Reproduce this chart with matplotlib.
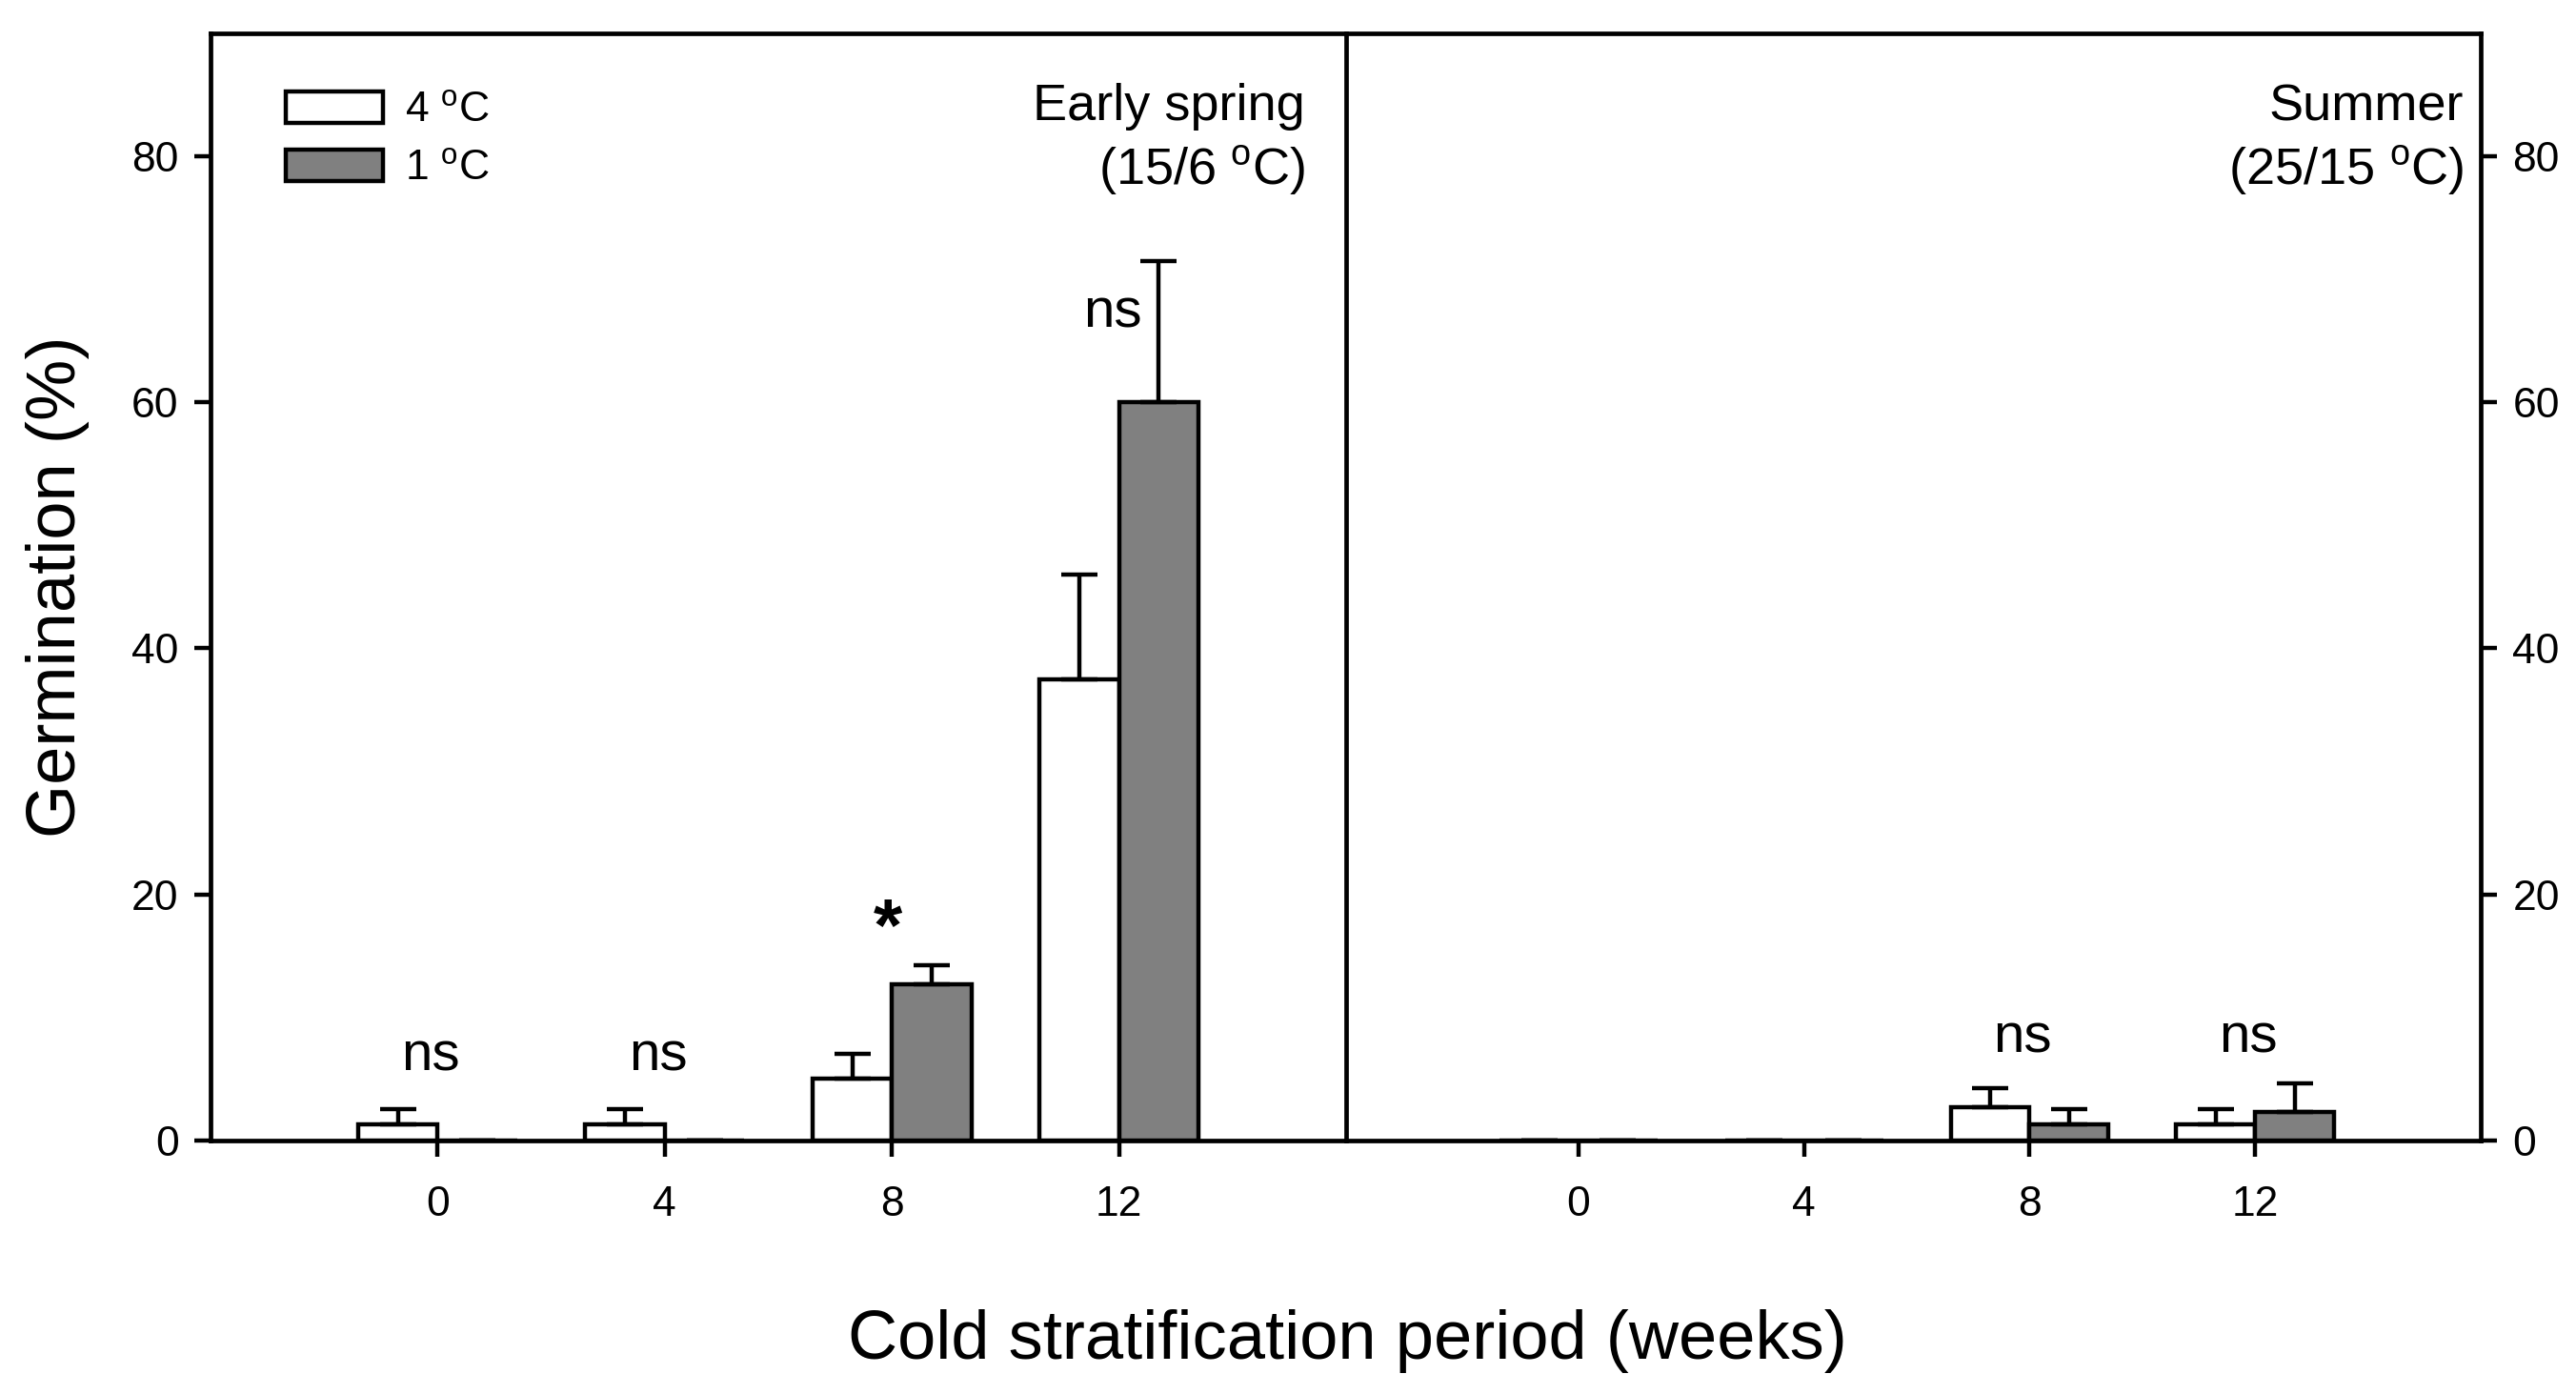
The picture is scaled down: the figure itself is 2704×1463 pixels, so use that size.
import matplotlib.pyplot as plt
import numpy as np
from matplotlib.patches import Patch

plt.rcParams['font.family'] = ['Liberation Sans', 'DejaVu Sans']
plt.rcParams['mathtext.fontset'] = 'custom'
plt.rcParams['mathtext.rm'] = 'Liberation Sans'

weeks = ['0', '4', '8', '12']
panels = ['Early spring\n(15/6 $^{\\mathrm{o}}$C)', 'Summer\n(25/15 $^{\\mathrm{o}}$C)']

# germination means and upper error (%)
spring_4c = [1.3, 1.3, 5.0, 37.5]
spring_4c_err = [1.25, 1.25, 2.0, 8.5]
spring_1c = [0, 0, 12.7, 60.0]
spring_1c_err = [0, 0, 1.5, 11.5]
summer_4c = [0, 0, 2.7, 1.3]
summer_4c_err = [0, 0, 1.55, 1.25]
summer_1c = [0, 0, 1.3, 2.3]
summer_1c_err = [0, 0, 1.25, 2.3]

spring_sig = ['ns', 'ns', '*', 'ns']
spring_sig_y = [6.8, 6.8, 17.0, 67.3]
summer_sig = ['', '', 'ns', 'ns']
summer_sig_y = [0, 0, 8.3, 8.3]

fig = plt.figure(figsize=(13.52, 7.315), dpi=200)
ax1 = fig.add_axes([0.0817, 0.182, 0.4409, 0.794])
ax2 = fig.add_axes([0.5226, 0.182, 0.4404, 0.794])

x = np.arange(len(weeks))
w = 0.35
data = [(ax1, spring_4c, spring_4c_err, spring_1c, spring_1c_err, spring_sig, spring_sig_y),
        (ax2, summer_4c, summer_4c_err, summer_1c, summer_1c_err, summer_sig, summer_sig_y)]

for i, (ax, v4, e4, v1, e1, sig, sigy) in enumerate(data):
    ax.bar(x - w / 2, v4, w, color='white', edgecolor='black', linewidth=1.6,
           yerr=[np.zeros(4), e4], capsize=6.7, error_kw=dict(elinewidth=1.6, capthick=1.6), zorder=2)
    ax.bar(x + w / 2, v1, w, color='#808080', edgecolor='black', linewidth=1.6,
           yerr=[np.zeros(4), e1], capsize=6.7, error_kw=dict(elinewidth=1.6, capthick=1.6), zorder=2)
    for xi, s, sy in zip(x, sig, sigy):
        if s == 'ns':
            ax.text(xi - 0.03, sy, s, ha='center', va='center', fontsize=21)
        elif s:
            ax.text(xi - 0.02, sy, s, ha='center', va='center', fontsize=28, fontweight='bold')
    ax.set_ylim(0, 90)
    ax.set_xticks(x)
    ax.set_xticklabels(weeks)
    ax.set_yticks([0, 20, 40, 60, 80])
    ax.tick_params(direction='out', length=6, width=1.6, labelsize=16)
    ax.tick_params(axis='x', pad=11)
    ax.tick_params(axis='y', pad=6)
    for sp in ax.spines.values():
        sp.set_linewidth(1.7)

ax1.set_xlim(-1.0, 4.0)
ax2.set_xlim(-1.03, 4.0)

ax1.text(0.964, 0.955, panels[0], transform=ax1.transAxes,
         ha='right', va='top', fontsize=19.5, linespacing=1.3)
ax2.text(0.985, 0.955, panels[1], transform=ax2.transAxes,
         ha='right', va='top', fontsize=19.5, linespacing=1.3)

ax1.spines['right'].set_visible(False)
ax2.yaxis.tick_right()
ax2.yaxis.set_label_position('right')

ax1.set_ylabel('Germination (%)', fontsize=26, labelpad=16)
fig.text(0.523, 0.038, 'Cold stratification period (weeks)', ha='center', va='center', fontsize=26)

handles = [Patch(facecolor='white', edgecolor='black', linewidth=1.6),
           Patch(facecolor='#808080', edgecolor='black', linewidth=1.6)]
ax1.legend(handles, ['4 $^{\\mathrm{o}}$C', '1 $^{\\mathrm{o}}$C'], loc='upper left',
           bbox_to_anchor=(0.033, 0.982), frameon=False, fontsize=16,
           handlelength=2.3, handleheight=0.75, handletextpad=0.5, labelspacing=0.45)

fig.savefig('out.png', dpi=200)
